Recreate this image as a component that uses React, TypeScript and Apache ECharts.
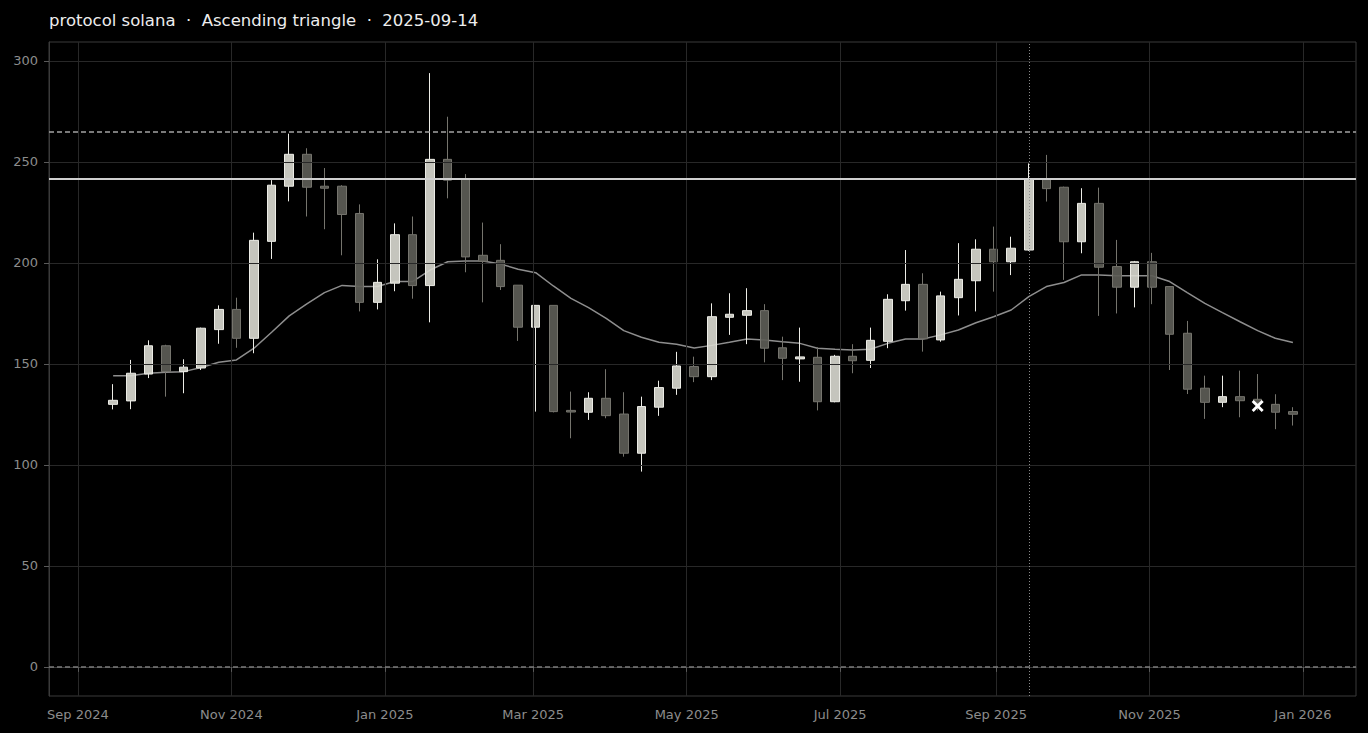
import React, { useEffect, useRef } from "react";
import * as echarts from "echarts";

const TITLE = "protocol solana  ·  Ascending triangle  ·  2025-09-14";

const dates = [
  "2024-09-15", "2024-09-22", "2024-09-29", "2024-10-06", "2024-10-13", "2024-10-20", "2024-10-27",
  "2024-11-03", "2024-11-10", "2024-11-17", "2024-11-24", "2024-12-01", "2024-12-08", "2024-12-15",
  "2024-12-22", "2024-12-29", "2025-01-05", "2025-01-12", "2025-01-19", "2025-01-26", "2025-02-02",
  "2025-02-09", "2025-02-16", "2025-02-23", "2025-03-02", "2025-03-09", "2025-03-16", "2025-03-23",
  "2025-03-30", "2025-04-06", "2025-04-13", "2025-04-20", "2025-04-27", "2025-05-04", "2025-05-11",
  "2025-05-18", "2025-05-25", "2025-06-01", "2025-06-08", "2025-06-15", "2025-06-22", "2025-06-29",
  "2025-07-06", "2025-07-13", "2025-07-20", "2025-07-27", "2025-08-03", "2025-08-10", "2025-08-17",
  "2025-08-24", "2025-08-31", "2025-09-07", "2025-09-14", "2025-09-21", "2025-09-28", "2025-10-05",
  "2025-10-12", "2025-10-19", "2025-10-26", "2025-11-02", "2025-11-09", "2025-11-16", "2025-11-23",
  "2025-11-30", "2025-12-07", "2025-12-14", "2025-12-21", "2025-12-28",
];

const opens = [
  130, 131.7, 145, 159, 146.2, 148, 167, 177, 162.7, 210.7, 238, 253.8, 238, 238, 224.5, 180.5,
  190, 214, 188.8, 251.3, 241.4, 203.8, 201.3, 189, 168.2, 179, 127, 126.1, 133, 125.2, 105.8, 128.6,
  138, 148.7, 143.7, 173.1, 174.1, 176.4, 158, 152.5, 153.3, 131.3, 153.8, 151.8, 161.2, 181.3, 189.4, 161.9,
  182.8, 191.2, 206.8, 200.6, 206.4, 241.4, 237.5, 210.5, 229.5, 198.2, 188, 200.6, 188.3, 165.2, 138, 131,
  133.8, 132.5, 130, 126.4,
];
const closes = [
  132, 145.4, 159, 146.2, 148.4, 167.7, 177, 162.7, 211.2, 238.5, 253.8, 237.5, 237, 224, 180.5, 190.4,
  214, 188.8, 251.3, 241, 203, 200.8, 188.3, 168.2, 179, 126.4, 126.2, 133, 124.4, 105.8, 128.9, 138.3,
  149, 143.7, 173.4, 174.6, 176.4, 157.8, 152.8, 153.5, 131.3, 153.8, 151.6, 161.7, 182, 189.4, 162.4, 183.7,
  191.9, 206.8, 200.6, 207.3, 241.4, 236.8, 210.5, 229.5, 197.9, 188, 200.6, 188, 164.7, 137.5, 131, 133.8,
  131.8, 130.5, 126.1, 125.1,
];
const lows = [
  127.5, 127.6, 143, 133.8, 135.5, 147, 160, 158, 155.3, 202, 230.5, 223, 216.7, 203.8, 176, 177,
  186, 182.3, 170.6, 232, 195.4, 180.5, 186.6, 161.4, 126.4, 126, 113.2, 122.3, 123.1, 104.1, 96.7, 124.3,
  134.7, 141, 142, 164.4, 159.8, 150.8, 142, 141.2, 127, 131, 145.4, 148, 157.8, 176.4, 156.1, 161,
  174, 176, 185.8, 194, 206, 230.4, 191.6, 204.8, 173.8, 175, 178, 179.6, 147, 135.1, 122.8, 128.6,
  123.6, 127, 117.7, 119.5,
];
const highs = [
  140, 152, 161.7, 159.5, 152.3, 168, 179, 182.8, 215, 241, 264, 256.8, 247, 238.5, 229, 201.8,
  219.6, 223, 294, 272.4, 244, 220, 209.3, 189, 179.2, 179, 136.3, 136, 147.4, 136, 133.8, 141.7,
  156, 153.6, 180, 185, 187.5, 179.6, 163.5, 168, 158.3, 154.5, 159.8, 168, 184.5, 206.4, 194.9, 185.8,
  209.8, 211.7, 218, 213, 249.3, 253.5, 237.8, 237, 237.3, 211.4, 201, 205, 188.5, 171.3, 144.2, 144.2,
  146.7, 145, 135, 128.6,
];
const maValues = [
  144.2, 144.2, 145.4, 145.9, 146.2, 148.2, 150.8, 152, 157.8, 165.7, 173.8, 179.7, 185.3, 188.9, 188.3, 188.3,
  190.8, 190.8, 196.5, 200.6, 201, 201, 199.5, 196.9, 195.2, 188.6, 182.5, 177.9, 172.6, 166.5, 163.2, 160.7,
  159.7, 157.9, 159.2, 160.7, 162.4, 161.9, 161, 160.2, 157.8, 157.3, 156.9, 157.3, 160.2, 162.4, 162.4, 164.4,
  166.8, 170.4, 173.4, 176.7, 183.3, 188.3, 190.3, 194.1, 194.1, 193.7, 193.7, 193.7, 190.8, 185.3, 180, 175.4,
  170.9, 166.5, 162.7, 160.6,
];

const resistanceLevel = 241.5;
const upperDashedLevel = 265.2;
const zeroLevel = 0;
const signalDate = "2025-09-14";
const markerDate = "2025-12-14";
const markerValue = 129.2;

const xTickDates = [
  "2024-09-01", "2024-11-01", "2025-01-01", "2025-03-01", "2025-05-01",
  "2025-07-01", "2025-09-01", "2025-11-01", "2026-01-01",
];
const yTickValues = [0, 50, 100, 150, 200, 250, 300];
const monthNames = ["Jan", "Feb", "Mar", "Apr", "May", "Jun", "Jul", "Aug", "Sep", "Oct", "Nov", "Dec"];

const ts = (s: string) => {
  const [y, m, d] = s.split("-").map(Number);
  return Date.UTC(y, m - 1, d);
};

const FONT = "DejaVu Sans";

export default function App() {
  const ref = useRef<HTMLDivElement>(null);

  useEffect(() => {
    document.body.style.margin = "0";
    document.body.style.background = "#000";
    if (!ref.current) return;
    const chart = echarts.init(ref.current, undefined, { renderer: "svg" });

    const candleData = dates.map((d, i) => [ts(d), opens[i], closes[i], lows[i], highs[i]]);
    const maData = dates.map((d, i) => [ts(d), maValues[i]]);
    const xTicks = xTickDates.map(ts);

    const option: any = {
      animation: false,
      backgroundColor: "#000000",
      title: {
        text: TITLE,
        left: 49,
        top: 12,
        padding: 0,
        textStyle: { color: "#ededed", fontSize: 16.5, fontWeight: "normal", fontFamily: FONT },
      },
      grid: {
        left: 49,
        right: 12,
        top: 42,
        bottom: 37,
        show: true,
        borderColor: "#3a3a3a",
        borderWidth: 1,
        backgroundColor: "transparent",
      },
      xAxis: {
        type: "value",
        min: Date.UTC(2024, 7, 20, 12),
        max: Date.UTC(2026, 0, 22, 2),
        z: 3,
        axisLine: { show: true, lineStyle: { color: "#3a3a3a", width: 1 } },
        axisTick: { show: true, customValues: xTicks, length: 5, lineStyle: { color: "#5a5a5a" } },
        axisLabel: {
          customValues: xTicks,
          color: "#8c8c8c",
          fontSize: 13,
          fontFamily: FONT,
          margin: 12,
          formatter: (v: number) => {
            const d = new Date(v);
            return monthNames[d.getUTCMonth()] + " " + d.getUTCFullYear();
          },
        },
        splitLine: { show: true, lineStyle: { color: "#282828", width: 1 } },
      },
      yAxis: {
        type: "value",
        min: -14.4,
        max: 309.4,
        z: 3,
        axisLine: { show: true, lineStyle: { color: "#3a3a3a", width: 1 } },
        axisTick: { show: true, customValues: yTickValues, length: 5, lineStyle: { color: "#5a5a5a" } },
        axisLabel: {
          customValues: yTickValues,
          color: "#8c8c8c",
          fontSize: 13,
          fontFamily: FONT,
          margin: 11,
        },
        splitLine: { show: true, lineStyle: { color: "#282828", width: 1 } },
      },
      series: [
        {
          type: "candlestick",
          z: 2,
          barWidth: 9,
          encode: { x: 0, y: [1, 2, 3, 4] },
          data: candleData,
          itemStyle: {
            color: "rgba(218,218,210,0.9)",
            borderColor: "#ecece6",
            color0: "rgba(92,92,86,0.92)",
            borderColor0: "#75746d",
            borderWidth: 1,
          },
        },
        {
          type: "line",
          z: 2,
          data: maData,
          symbol: "none",
          lineStyle: { color: "#8e8e8e", width: 1.5 },
          silent: true,
        },
        {
          type: "line",
          z: 4,
          data: [],
          silent: true,
          markLine: {
            silent: true,
            symbol: ["none", "none"],
            label: { show: false },
            animation: false,
            data: [
              { yAxis: resistanceLevel, lineStyle: { color: "#cfcfcf", width: 2, type: "solid" } },
              { yAxis: upperDashedLevel, lineStyle: { color: "#a3a3a3", width: 1.5, type: [5, 3] } },
              { yAxis: zeroLevel, lineStyle: { color: "#7a7a7a", width: 1.5, type: [5, 3] } },
              { xAxis: ts(signalDate), lineStyle: { color: "#8a8a8a", width: 1, type: [1, 2] } },
            ],
          },
        },
        {
          type: "scatter",
          z: 5,
          data: [[ts(markerDate), markerValue]],
          symbol: "path://M2,0 L6,4 L10,0 L12,2 L8,6 L12,10 L10,12 L6,8 L2,12 L0,10 L4,6 L0,2 Z",
          symbolSize: 12,
          itemStyle: { color: "#ffffff", opacity: 1 },
          silent: true,
        },
      ],
    };

    chart.setOption(option);
    return () => chart.dispose();
  }, []);

  return <div ref={ref} style={{ width: 1368, height: 733 }} />;
}
